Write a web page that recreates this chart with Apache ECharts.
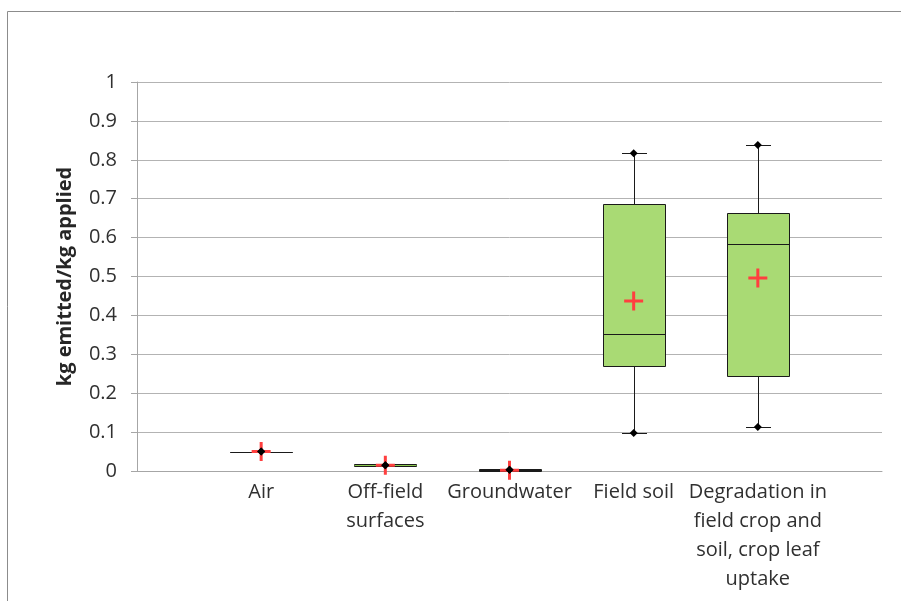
<!DOCTYPE html>
<html>
<head>
<meta charset="utf-8">
<script src="https://cdn.jsdelivr.net/npm/echarts@6/dist/echarts.min.js"></script>
<style>html,body{margin:0;padding:0;background:#fff}#c{width:901px;height:601px}</style>
</head>
<body>
<div id="c"></div>
<script>
var categories = ['Air', 'Off-field\nsurfaces', 'Groundwater', 'Field soil', 'Degradation in\nfield crop and\nsoil, crop leaf\nuptake'];
var whiskerMin = [0.050, 0.015, 0.003, 0.098, 0.113];
var q1         = [0.050, 0.013, 0.001, 0.270, 0.244];
var median     = [0.050, 0.015, 0.003, 0.352, 0.584];
var q3         = [0.050, 0.017, 0.005, 0.686, 0.663];
var whiskerMax = [0.050, 0.015, 0.003, 0.817, 0.838];
var mean       = [0.050, 0.015, 0.002, 0.437, 0.496];
var yTicks = ['0', '0.1', '0.2', '0.3', '0.4', '0.5', '0.6', '0.7', '0.8', '0.9', '1'];

var axisData = [''].concat(categories, ['']);
var boxData = categories.map(function (c, i) {
  return [i + 1, whiskerMin[i], q1[i], median[i], q3[i], whiskerMax[i]];
});
var meanData = categories.map(function (c, i) { return [i + 1, mean[i]]; });
var dotData = [];
categories.forEach(function (c, i) {
  dotData.push([i + 1, whiskerMin[i]]);
  dotData.push([i + 1, whiskerMax[i]]);
});

var BOX_W = 62, CAP_W = 25;
function r(v) { return Math.round(v) + 0.5; }

var chart = echarts.init(document.getElementById('c'));
chart.setOption({
  animation: false,
  backgroundColor: '#fff',
  graphic: [{
    type: 'rect', silent: true,
    shape: { x: 7.5, y: 11.5, width: 940, height: 640 },
    style: { fill: 'none', stroke: '#8c8c8c', lineWidth: 1 }
  }],
  grid: { left: 137, right: 19, top: 82, bottom: 130, containLabel: false },
  xAxis: {
    type: 'category',
    data: axisData,
    boundaryGap: false,
    axisLine: { show: true, lineStyle: { color: '#a6a6a6', width: 1 } },
    axisTick: { show: false },
    splitLine: { show: false },
    axisLabel: {
      interval: 0, margin: 7,
      fontFamily: 'Open Sans', fontSize: 20, lineHeight: 29, color: '#303030', align: 'center'
    }
  },
  yAxis: {
    type: 'value',
    min: 0, max: 1, interval: 0.1,
    name: 'kg emitted/kg applied',
    nameLocation: 'middle',
    nameGap: 62,
    nameRotate: 90,
    nameTextStyle: { fontFamily: 'Open Sans', fontSize: 20, fontWeight: 'bold', color: '#262626' },
    axisLine: { show: true, lineStyle: { color: '#a6a6a6', width: 1 } },
    axisTick: { show: true, length: 6, lineStyle: { color: '#a6a6a6' } },
    splitLine: { show: true, lineStyle: { color: '#b3b3b3', width: 1 } },
    axisLabel: {
      margin: 20,
      fontFamily: 'Open Sans', fontSize: 20, color: '#303030',
      formatter: function (v) { return yTicks[Math.round(v * 10)]; }
    }
  },
  series: [
    {
      type: 'custom',
      data: boxData,
      z: 2,
      renderItem: function (params, api) {
        var x = api.value(0);
        var pMin = api.coord([x, api.value(1)]);
        var pQ1 = api.coord([x, api.value(2)]);
        var pMed = api.coord([x, api.value(3)]);
        var pQ3 = api.coord([x, api.value(4)]);
        var pMax = api.coord([x, api.value(5)]);
        var cx = r(pMin[0]);
        var lineStyle = { stroke: '#1a1a1a', lineWidth: 1 };
        var yq1 = Math.round(pQ1[1]), yq3 = Math.round(pQ3[1]);
        return {
          type: 'group',
          children: [
            { type: 'line', shape: { x1: cx, y1: r(pMin[1]), x2: cx, y2: r(pQ1[1]) }, style: lineStyle },
            { type: 'line', shape: { x1: cx, y1: r(pQ3[1]), x2: cx, y2: r(pMax[1]) }, style: lineStyle },
            { type: 'line', shape: { x1: cx - CAP_W / 2, y1: r(pMin[1]), x2: cx + CAP_W / 2, y2: r(pMin[1]) }, style: lineStyle },
            { type: 'line', shape: { x1: cx - CAP_W / 2, y1: r(pMax[1]), x2: cx + CAP_W / 2, y2: r(pMax[1]) }, style: lineStyle },
            { type: 'rect', shape: { x: cx - BOX_W / 2, y: yq3 + 0.5, width: BOX_W, height: Math.max(yq1 - yq3, 0) },
              style: { fill: '#a9da74', stroke: '#1a1a1a', lineWidth: 1 } },
            { type: 'line', shape: { x1: cx - BOX_W / 2, y1: r(pMed[1]), x2: cx + BOX_W / 2, y2: r(pMed[1]) },
              style: { stroke: params.dataIndex === 1 ? '#8cc850' : '#1a1a1a', lineWidth: 1 } }
          ]
        };
      }
    },
    {
      type: 'scatter',
      data: meanData,
      z: 3,
      symbol: 'path://M8,0H11V8H19V11H11V19H8V11H0V8H8Z',
      symbolSize: [19, 19],
      itemStyle: { color: '#ff3f3f', opacity: 1 }
    },
    {
      type: 'scatter',
      data: dotData,
      z: 4,
      symbol: 'diamond',
      symbolSize: [8, 8],
      itemStyle: { color: '#000', opacity: 1 }
    }
  ]
});
</script>
</body>
</html>
